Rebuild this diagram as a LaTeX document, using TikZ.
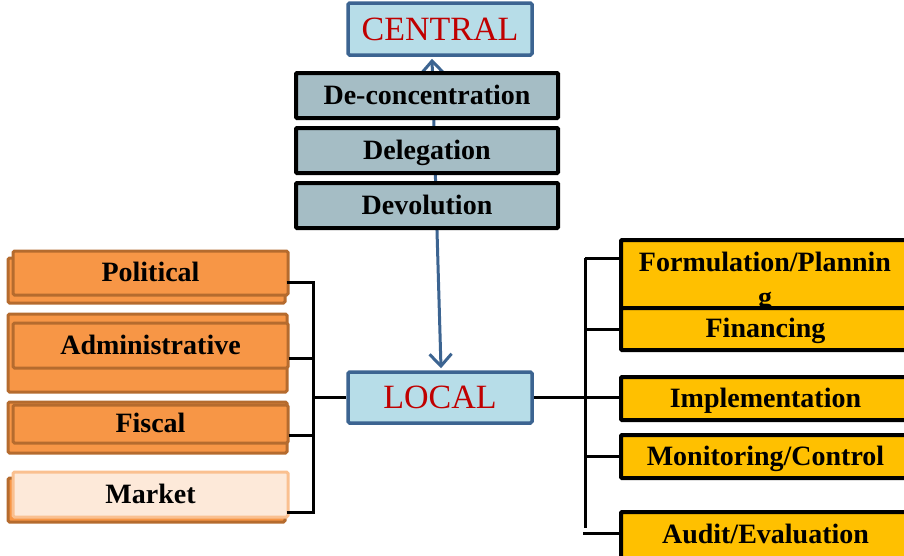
\documentclass[tikz,border=0pt]{standalone}
\usepackage{fontspec}
\setmainfont{Liberation Serif}
\usetikzlibrary{arrows.meta}
\definecolor{orfill}{HTML}{F79646}
\definecolor{ordraw}{HTML}{B56B2E}
\definecolor{mkfill}{HTML}{FDE9D9}
\definecolor{mkdraw}{HTML}{FAC090}
\definecolor{bluefill}{HTML}{B7DDE8}
\definecolor{bluedraw}{HTML}{3C6491}
\definecolor{grayfill}{HTML}{A5BDC5}
\definecolor{yelfill}{HTML}{FFC000}
\definecolor{redtext}{HTML}{C00000}
\tikzset{
  box/.style={inner sep=0pt, font=\fontsize{28}{32}\selectfont\bfseries},
  cbox/.style={box, text height=23pt, text depth=6pt},
  orbox/.style={cbox, fill=orfill, draw=ordraw, line width=3pt, rounded corners=1.5pt},
  mkbox/.style={cbox, fill=mkfill, draw=mkdraw, line width=3pt, rounded corners=1.5pt},
  graybox/.style={cbox, fill=grayfill, draw=black, line width=4pt, rounded corners=1pt},
  yelbox/.style={cbox, fill=yelfill, draw=black, line width=4pt, rounded corners=1pt},
  bluebox/.style={inner sep=0pt, fill=bluefill, draw=bluedraw, line width=3.5pt, rounded corners=1.5pt, text=redtext, font=\fontsize{34}{38}\selectfont},
  conn/.style={draw=black, line width=3pt},
  arr/.style={draw=bluedraw, line width=3pt, {Straight Barb[length=12pt,width=22pt,line width=3pt]}-{Straight Barb[length=12pt,width=22pt,line width=3pt]}}
}
\begin{document}
\begin{tikzpicture}[x=1pt,y=-1pt]
\useasboundingbox (0,0) rectangle (904,555);
\clip (0,0) rectangle (904,555);
\fill[white] (0,0) rectangle (904,555);

% central / local
\node[bluebox, minimum width=184pt, minimum height=52pt] (central) at (440,29) {CENTRAL};
\node[bluebox, minimum width=184pt, minimum height=51pt] (local) at (440,397.5) {LOCAL};

% arrow (behind gray boxes)
\draw[arr] ([xshift=1pt,yshift=2pt]local.north) -- ([xshift=-8pt,yshift=-2pt]central.south);

% gray boxes
\node[graybox, minimum width=262pt, minimum height=45pt] (deconc) at (427,95.5) {De-concentration};
\node[graybox, minimum width=262pt, minimum height=45pt] (deleg) at (427,150.5) {Delegation};
\node[graybox, minimum width=262pt, minimum height=45pt] (devol) at (427,205.5) {Devolution};

% left boxes
\node[orbox, minimum width=277pt, minimum height=45pt] (polb) at (146.5,280.5) {};
\node[orbox, minimum width=275pt, minimum height=44pt] (pol) at (150.5,273) {Political};

\node[orbox, minimum width=279pt, minimum height=78pt] (admb) at (147.5,353) {};
\node[orbox, minimum width=275pt, minimum height=45pt] (adm) at (150.5,345.5) {Administrative};

\node[orbox, minimum width=279pt, minimum height=51pt] (fisb) at (147.5,427.5) {};
\node[orbox, minimum width=275pt, minimum height=38pt] (fis) at (150.5,424) {Fiscal};

\node[orbox, minimum width=277pt, minimum height=44pt] (mktb) at (146.5,500) {};
\node[mkbox, minimum width=275pt, minimum height=45pt] (mkt) at (150.5,494.5) {Market};

% right boxes
\node[yelbox, minimum width=289pt, minimum height=68pt] (form) at (765.5,274) {};
\node[box, anchor=base] (formt1) at (765,271) {Formulation/Plannin};
\node[box, anchor=base] (formt2) at (765,306) {g};
\node[yelbox, minimum width=289pt, minimum height=42pt] (fin) at (765.5,329) {Financing};
\node[yelbox, minimum width=289pt, minimum height=43pt] (impl) at (765.5,398.5) {Implementation};
\node[yelbox, minimum width=289pt, minimum height=43pt] (mon) at (765.5,456.5) {Monitoring/Control};
\node[yelbox, minimum width=289pt, minimum height=46pt] (aud) at (765.5,535) {Audit/Evaluation};

% left bracket
\coordinate (lbx) at (313,0);
\draw[conn] ([yshift=-1.5pt]polb.east) -- ([yshift=-1.5pt]polb.east -| lbx);
\draw[conn] ([yshift=-5pt]admb.east) -- ([yshift=-5pt]admb.east -| lbx);
\draw[conn] ([yshift=-7.5pt]fisb.east) -- ([yshift=-7.5pt]fisb.east -| lbx);
\draw[conn] ([yshift=-12pt]mktb.east) -- ([yshift=-12pt]mktb.east -| lbx);
\draw[conn, line cap=rect] ([yshift=-1.5pt]polb.east -| lbx) -- ([yshift=-12pt]mktb.east -| lbx);
\draw[conn] (local.west -| lbx) -- (local.west);

% right bracket
\coordinate (rbx) at (585,0);
\draw[conn] ([yshift=16pt]form.west) -- ([yshift=16pt]form.west -| rbx);
\draw[conn] (fin.west) -- (fin.west -| rbx);
\draw[conn] (local.east) -- (local.east -| impl.west);
\draw[conn] (mon.west) -- (mon.west -| rbx);
\draw[conn] ([yshift=2pt]aud.west) -- ([yshift=2pt, xshift=-2pt]aud.west -| rbx);
\draw[conn] ([yshift=16pt]form.west -| rbx) -- ([yshift=7pt]aud.west -| rbx);
\end{tikzpicture}
\end{document}
